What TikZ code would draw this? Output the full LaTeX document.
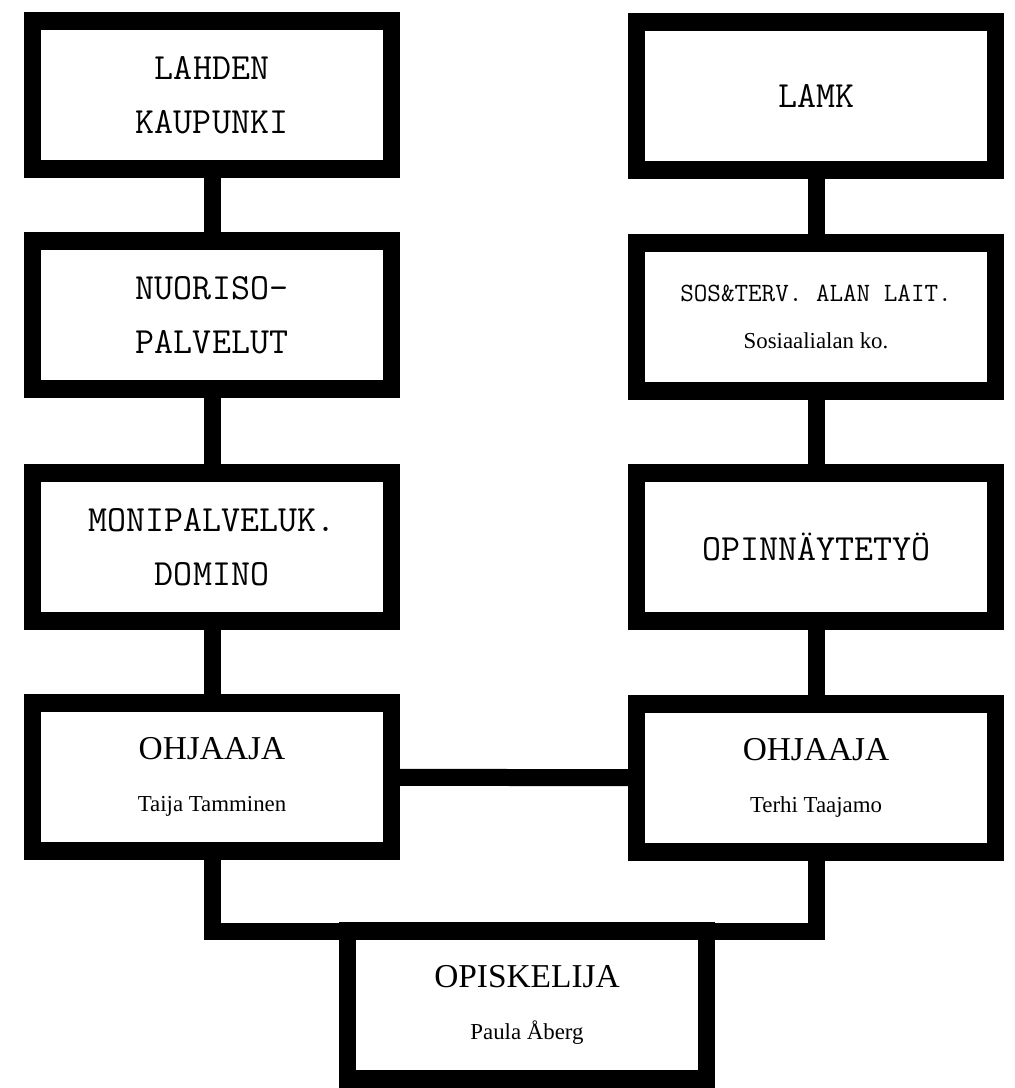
\documentclass[tikz,border=0pt]{standalone}
\usepackage{fontspec}
\setmainfont{Liberation Serif}

\newcommand{\capsfont}{\ttfamily\fontsize{21}{31}\selectfont}
\newcommand{\smallcaps}{\ttfamily\fontsize{15}{27}\selectfont}
\newcommand{\titlefont}{\rmfamily\fontsize{19}{30}\selectfont}
\newcommand{\namefont}{\rmfamily\fontsize{13}{27}\selectfont}

\tikzstyle{box} = [rectangle, draw, line width=0.35cm, minimum width=7.18cm, minimum height=2.96cm, align=center, inner sep=0pt, outer sep=0pt]
\tikzstyle{link} = [line width=0.34cm]

\begin{document}
\begin{tikzpicture}[x=0.02cm, y=-0.02cm]
\useasboundingbox (0,0) rectangle (1014,1088);

% left column
\node (kaupunki) [box, font=\capsfont] at (212,95) {LAHDEN\\KAUPUNKI};
\node (nuoriso) [box, font=\capsfont] at (212,315) {NUORISO-\\PALVELUT};
\node (domino) [box, font=\capsfont] at (212,547) {MONIPALVELUK.\\DOMINO};
\node (ohjaajaL) [box, font=\titlefont] at (212,777) {OHJAAJA\\{\namefont Taija Tamminen}};

% right column
\node (lamk) [box, font=\capsfont] at (816,96) {LAMK};
\node (sosterv) [box, font=\smallcaps] at (816,317) {SOS\&TERV. ALAN LAIT.\\{\namefont Sosiaalialan ko.}};
\node (opinnayte) [box, font=\capsfont] at (816,547) {OPINNÄYTETYÖ};
\node (ohjaajaR) [box, font=\titlefont] at (816,778) {OHJAAJA\\{\namefont Terhi Taajamo}};

% bottom
\node (opiskelija) [box, font=\titlefont] at (527,1005) {OPISKELIJA\\{\namefont Paula Åberg}};

\draw [link] (kaupunki) -- (nuoriso);
\draw [link] (nuoriso) -- (domino);
\draw [link] (domino) -- (ohjaajaL);
\draw [link] (lamk) -- (sosterv);
\draw [link] (sosterv) -- (opinnayte);
\draw [link] (opinnayte) -- (ohjaajaR);
\draw [link] (ohjaajaL) -- (ohjaajaR);
\draw [link] (ohjaajaL.south) -- (ohjaajaL.south |- opiskelija.north) -- (ohjaajaR.south |- opiskelija.north) -- (ohjaajaR.south);
\end{tikzpicture}
\end{document}
